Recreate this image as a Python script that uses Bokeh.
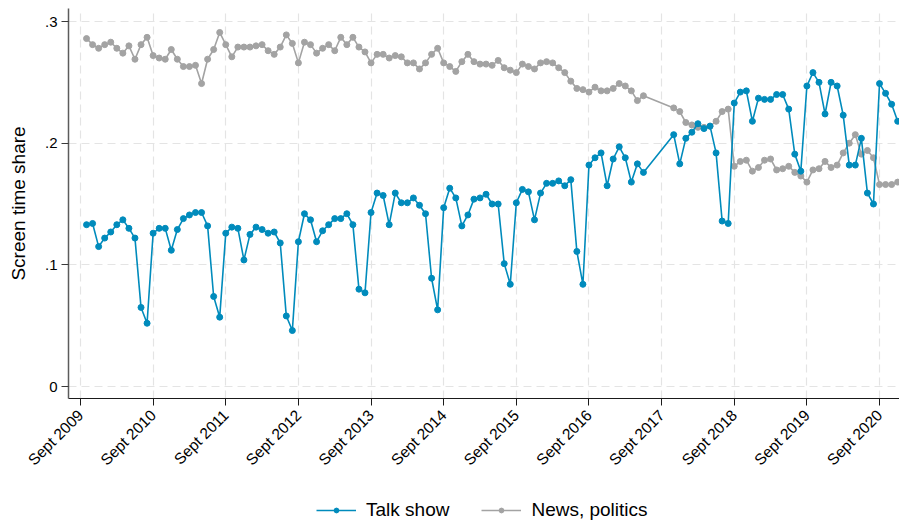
import math
import pandas as pd
from bokeh.plotting import figure
from bokeh.layouts import column
from bokeh.models import ColumnDataSource, FixedTicker, Range1d, Legend, LegendItem
from bokeh.embed import file_html
from bokeh.resources import INLINE

# ---- data -------------------------------------------------------------
# monthly observations; no data between Jul and Oct 2017
months_a = pd.period_range("2009-10", "2017-06", freq="M")
months_b = pd.period_range("2017-11", "2020-12", freq="M")

talk_show = [
    0.133, 0.134, 0.115, 0.122, 0.127, 0.133, 0.137, 0.130, 0.122, 0.065, 0.052,
    0.126, 0.130, 0.130, 0.112, 0.129, 0.138, 0.141, 0.143, 0.143, 0.132, 0.074, 0.057,
    0.126, 0.131, 0.130, 0.104, 0.125, 0.131, 0.129, 0.126, 0.127, 0.118, 0.058, 0.046,
    0.119, 0.142, 0.137, 0.119, 0.128, 0.133, 0.138, 0.138, 0.142, 0.133, 0.080, 0.077,
    0.143, 0.159, 0.157, 0.133, 0.159, 0.151, 0.151, 0.155, 0.149, 0.142, 0.089, 0.063,
    0.147, 0.163, 0.155, 0.132, 0.141, 0.154, 0.155, 0.158, 0.150, 0.150, 0.101, 0.084,
    0.151, 0.162, 0.160, 0.137, 0.159, 0.167, 0.167, 0.169, 0.165, 0.170, 0.111, 0.084,
    0.182, 0.188, 0.192, 0.165, 0.187, 0.197, 0.188, 0.168, 0.183, 0.176,
    0.207, 0.183, 0.204, 0.209, 0.216, 0.212, 0.214, 0.192, 0.136, 0.134,
    0.233, 0.242, 0.243, 0.218, 0.237, 0.236, 0.236, 0.240, 0.240, 0.228, 0.191, 0.177,
    0.247, 0.258, 0.250, 0.224, 0.250, 0.247, 0.223, 0.182, 0.182, 0.204, 0.159, 0.150,
    0.249, 0.241, 0.232, 0.218,
]

news_politics = [
    0.286, 0.281, 0.278, 0.281, 0.283, 0.278, 0.274, 0.280, 0.269, 0.281, 0.287,
    0.272, 0.270, 0.269, 0.277, 0.269, 0.263, 0.263, 0.264, 0.249, 0.269, 0.277, 0.291,
    0.281, 0.271, 0.279, 0.279, 0.279, 0.280, 0.281, 0.276, 0.273, 0.279, 0.289, 0.282,
    0.266, 0.283, 0.281, 0.274, 0.278, 0.281, 0.276, 0.287, 0.281, 0.287, 0.279, 0.275,
    0.266, 0.273, 0.273, 0.270, 0.272, 0.271, 0.266, 0.266, 0.261, 0.266, 0.273, 0.278,
    0.266, 0.263, 0.259, 0.267, 0.273, 0.267, 0.265, 0.265, 0.264, 0.268, 0.262, 0.260,
    0.258, 0.265, 0.263, 0.261, 0.266, 0.267, 0.266, 0.262, 0.258, 0.251, 0.245, 0.244,
    0.242, 0.246, 0.243, 0.243, 0.245, 0.249, 0.247, 0.243, 0.235, 0.239,
    0.229, 0.226, 0.217, 0.215, 0.213, 0.213, 0.214, 0.218, 0.226, 0.228,
    0.181, 0.185, 0.186, 0.177, 0.180, 0.186, 0.187, 0.178, 0.179, 0.181, 0.176, 0.173,
    0.168, 0.178, 0.179, 0.185, 0.180, 0.182, 0.192, 0.200, 0.207, 0.191, 0.194, 0.188,
    0.166, 0.166, 0.166, 0.168,
]

tick_years = list(range(2009, 2021))
tick_labels = [f"Sept {y}" for y in tick_years]
y_ticks = [0, 0.1, 0.2, 0.3]
y_tick_labels = ["0", ".1", ".2", ".3"]
series_names = ["Talk show", "News, politics"]

# ---- build ------------------------------------------------------------
months = list(months_a) + list(months_b)
x = [(m.year - 2009) * 12 + (m.month - 9) for m in months]
src = ColumnDataSource(dict(x=x, talk=talk_show, news=news_politics))
tick_pos = [(y - 2009) * 12 for y in tick_years]

FONT = "Liberation Sans"
BLUE = "#008bbc"
GRAY = "#a3a3a3"

p = figure(width=899, height=490, output_backend="svg", toolbar_location=None,
           x_range=Range1d(-1.98, 135.3), y_range=Range1d(-0.00986, 0.3107),
           min_border_left=68, min_border_right=0, min_border_top=8,
           min_border_bottom=92)
p.outline_line_color = None
p.background_fill_color = "white"
p.border_fill_color = "white"

p.line("x", "news", source=src, line_color=GRAY, line_width=1.6)
p.scatter("x", "news", source=src, size=6, color=GRAY)
p.line("x", "talk", source=src, line_color=BLUE, line_width=1.6)
p.scatter("x", "talk", source=src, size=6, color=BLUE)

# x axis
xa = p.xaxis[0]
xa.ticker = FixedTicker(ticks=tick_pos)
xa.major_label_overrides = {t: l for t, l in zip(tick_pos, tick_labels)}
xa.major_label_orientation = math.pi / 4
xa.major_label_text_font = FONT
xa.major_label_text_font_size = "15.5px"
xa.major_label_text_color = "black"
xa.major_label_standoff = 7
xa.major_tick_out = 7
xa.major_tick_in = 0
xa.minor_tick_line_color = None
xa.axis_line_color = "#1a1a1a"
xa.major_tick_line_color = "#1a1a1a"

# y axis
ya = p.yaxis[0]
ya.ticker = FixedTicker(ticks=y_ticks)
ya.major_label_overrides = {t: l for t, l in zip(y_ticks, y_tick_labels)}
ya.major_label_text_font = FONT
ya.major_label_text_font_size = "15px"
ya.major_label_text_color = "black"
ya.major_label_standoff = 4
ya.major_tick_out = 7
ya.major_tick_in = 0
ya.minor_tick_line_color = None
ya.axis_line_color = "#5c5c5c"
ya.axis_line_width = 1.5
ya.major_tick_line_color = "#3a3a3a"
ya.axis_label = "Screen time share"
ya.axis_label_text_font = FONT
ya.axis_label_text_font_size = "19px"
ya.axis_label_text_font_style = "normal"
ya.axis_label_text_color = "black"
ya.axis_label_standoff = 13

# grids
p.xgrid.ticker = FixedTicker(ticks=tick_pos)
p.ygrid.ticker = FixedTicker(ticks=y_ticks)
for g in (p.xgrid[0], p.ygrid[0]):
    g.grid_line_color = "#e4e4e4"
    g.grid_line_width = 1.2
    g.grid_line_dash = "8 5"

# ---- legend strip below the chart -------------------------------------
lf = figure(width=899, height=33, output_backend="svg", toolbar_location=None,
            x_range=Range1d(0, 1), y_range=Range1d(0, 1),
            x_axis_location=None, y_axis_location=None,
            min_border_left=0, min_border_right=0, min_border_top=0,
            min_border_bottom=0)
lf.outline_line_color = None
lf.border_fill_color = "white"
lf.background_fill_color = "white"
lf.xgrid.visible = False
lf.ygrid.visible = False
# key renderers sit outside the strip's visible range; only their legend swatches show
k_lb = lf.line([-5, -4], [-5, -4], line_color=BLUE, line_width=1.6)
k_sb = lf.scatter([-5], [-5], size=6, color=BLUE)
k_lg = lf.line([-5, -4], [-5, -4], line_color=GRAY, line_width=1.6)
k_sg = lf.scatter([-5], [-5], size=6, color=GRAY)

legend = Legend(
    items=[LegendItem(label=series_names[0], renderers=[k_lb, k_sb]),
           LegendItem(label=series_names[1], renderers=[k_lg, k_sg])],
    orientation="horizontal", location=(248, 2),
    padding=0, margin=0, spacing=32, glyph_width=40, glyph_height=12,
    label_standoff=10, label_text_font=FONT, label_text_font_size="19px",
    label_text_color="black", border_line_color=None, background_fill_alpha=0,
)
lf.add_layout(legend)

layout = column(p, lf, spacing=0)
open("out.html", "w").write(file_html(layout, INLINE))
